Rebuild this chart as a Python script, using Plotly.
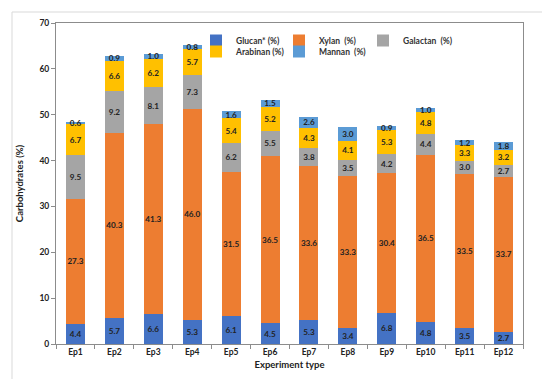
import plotly.graph_objects as go

categories = ["Ep1", "Ep2", "Ep3", "Ep4", "Ep5", "Ep6", "Ep7", "Ep8", "Ep9", "Ep10", "Ep11", "Ep12"]
glucan = [4.4, 5.7, 6.6, 5.3, 6.1, 4.5, 5.3, 3.4, 6.8, 4.8, 3.5, 2.7]
xylan = [27.3, 40.3, 41.3, 46.0, 31.5, 36.5, 33.6, 33.3, 30.4, 36.5, 33.5, 33.7]
galactan = [9.5, 9.2, 8.1, 7.3, 6.2, 5.5, 3.8, 3.5, 4.2, 4.4, 3.0, 2.7]
arabinan = [6.7, 6.6, 6.2, 5.7, 5.4, 5.2, 4.3, 4.1, 5.3, 4.8, 3.3, 3.2]
mannan = [0.6, 0.9, 1.0, 0.8, 1.6, 1.5, 2.6, 3.0, 0.9, 1.0, 1.2, 1.8]

series = [
    ("Glucan* (%)", glucan, "#4472C4", "legend", 38),
    ("Xylan  (%)", xylan, "#ED7D31", "legend", 39),
    ("Galactan  (%)", galactan, "#A5A5A5", "legend", 70),
    ("Arabinan (%)", arabinan, "#FFC000", "legend2", 38),
    ("Mannan  (%)", mannan, "#5B9BD5", "legend2", 60),
]

FONT = "Lato"
fig = go.Figure()
for name, vals, col, lg, lw in series:
    fig.add_trace(go.Bar(
        x=categories, y=vals, name="<b>" + name + "</b>", marker_color=col,
        marker_line_width=0, legend=lg, legendwidth=lw,
        texttemplate="<b>%{y:.1f}</b>", textposition="inside",
        insidetextanchor="middle", textangle=0,
        textfont=dict(family=FONT, size=8.5, color="#222222"),
        cliponaxis=False,
    ))

W, H = 550, 379
L, R, T, B = 48, 35, 15, 43
pw, ph = W - L - R, H - T - B

leg_common = dict(
    orientation="h", xanchor="left", yanchor="top",
    entrywidthmode="pixels",
    font=dict(family=FONT, size=8.5, color="#333333"),
    bgcolor="rgba(0,0,0,0)", traceorder="normal",
    itemwidth=30, tracegroupgap=0,
)
lx = (188 - L) / pw

fig.update_layout(
    width=W, height=H, barmode="stack", bargap=0.51,
    margin=dict(l=L, r=R, t=T, b=B, autoexpand=False),
    paper_bgcolor="white", plot_bgcolor="white",
    font=dict(family=FONT, size=8.5, color="#222222"),
    uniformtext=dict(minsize=8, mode="show"),
    legend=dict(x=lx, y=(H - B - 18) / ph, **leg_common),
    legend2=dict(x=lx, y=(H - B - 29) / ph, **leg_common),
    xaxis=dict(
        showline=True, linecolor="#8c8c8c", linewidth=1, mirror=True,
        ticks="outside", tickson="boundaries", ticklen=4, tickcolor="#8c8c8c",
        tickfont=dict(family=FONT, size=8.5, color="#222222"),
        tickprefix="<b>", ticksuffix="</b>", automargin=False,
        title=dict(text="<b>Experiment type</b>", font=dict(family=FONT, size=9.5, color="#222222"), standoff=5),
        showgrid=False,
    ),
    yaxis=dict(
        range=[0, 70], dtick=10, showline=True, linecolor="#8c8c8c", linewidth=1, mirror=True,
        ticks="outside", ticklen=4, tickcolor="#8c8c8c",
        tickfont=dict(family=FONT, size=8.5, color="#222222"),
        tickprefix="<b>", ticksuffix="</b>", automargin=False,
        title=dict(text="<b>Carbohydrates (%)</b>", font=dict(family=FONT, size=9.5, color="#222222"), standoff=14),
        showgrid=False, zeroline=False,
    ),
)

fig.add_shape(type="rect", xref="paper", yref="paper",
              x0=(4 - L) / pw, x1=(545 - L) / pw,
              y0=(H - B - 375) / ph, y1=(H - B - 4) / ph,
              line=dict(color="#d9d9d9", width=1), layer="below")

fig.write_html("out.html")
